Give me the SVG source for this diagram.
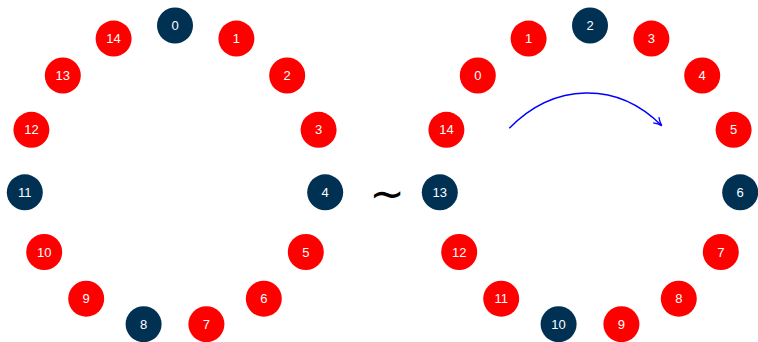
<svg xmlns="http://www.w3.org/2000/svg" width="758" height="342" viewBox="0 0 758 342">
  <style>
    .red { fill: #ff0000; }
    .navy { fill: #003153; }
    .lbl { fill: #ffffff; font-family: "Liberation Sans", Arial, sans-serif; font-size: 13px; text-anchor: middle; dominant-baseline: central; }
    .tilde { fill: #000000; font-family: "DejaVu Sans", sans-serif; font-size: 42px; text-anchor: middle; dominant-baseline: central; }
    .edge { fill: none; stroke: #0000ff; stroke-width: 1.4; }
  </style>
  <defs>
    <marker id="head" viewBox="0 0 10 10" refX="9" refY="5" markerWidth="10" markerHeight="10" markerUnits="userSpaceOnUse" orient="auto">
      <path d="M1,1 Q5,4 9,5 Q5,6 1,9" fill="none" stroke="#0000ff" stroke-width="1.3"/>
    </marker>
  </defs>

  <!-- left ring: 15 nodes on a circle, centre (175,176.5), radius 151 -->
  <g id="L0"><circle class="navy" cx="175" cy="25.5" r="18"/><text class="lbl" x="175" y="25.5">0</text></g>
  <g id="L1"><circle class="red" cx="236.4" cy="38.6" r="18"/><text class="lbl" x="236.4" y="38.6">1</text></g>
  <g id="L2"><circle class="red" cx="287.2" cy="75.5" r="18"/><text class="lbl" x="287.2" y="75.5">2</text></g>
  <g id="L3"><circle class="red" cx="318.6" cy="129.8" r="18"/><text class="lbl" x="318.6" y="129.8">3</text></g>
  <g id="L4"><circle class="navy" cx="325.2" cy="192.3" r="18"/><text class="lbl" x="325.2" y="192.3">4</text></g>
  <g id="L5"><circle class="red" cx="305.8" cy="252" r="18"/><text class="lbl" x="305.8" y="252">5</text></g>
  <g id="L6"><circle class="red" cx="263.8" cy="298.7" r="18"/><text class="lbl" x="263.8" y="298.7">6</text></g>
  <g id="L7"><circle class="red" cx="206.4" cy="324.2" r="18"/><text class="lbl" x="206.4" y="324.2">7</text></g>
  <g id="L8"><circle class="navy" cx="143.6" cy="324.2" r="18"/><text class="lbl" x="143.6" y="324.2">8</text></g>
  <g id="L9"><circle class="red" cx="86.2" cy="298.7" r="18"/><text class="lbl" x="86.2" y="298.7">9</text></g>
  <g id="L10"><circle class="red" cx="44.2" cy="252" r="18"/><text class="lbl" x="44.2" y="252">10</text></g>
  <g id="L11"><circle class="navy" cx="24.8" cy="192.3" r="18"/><text class="lbl" x="24.8" y="192.3">11</text></g>
  <g id="L12"><circle class="red" cx="31.4" cy="129.8" r="18"/><text class="lbl" x="31.4" y="129.8">12</text></g>
  <g id="L13"><circle class="red" cx="62.8" cy="75.5" r="18"/><text class="lbl" x="62.8" y="75.5">13</text></g>
  <g id="L14"><circle class="red" cx="113.6" cy="38.6" r="18"/><text class="lbl" x="113.6" y="38.6">14</text></g>

  <!-- equivalence sign -->
  <text class="tilde" x="387" y="193">∼</text>

  <!-- right ring: same circle shifted, labels rotated by two -->
  <g id="R2"><circle class="navy" cx="590" cy="25.5" r="18"/><text class="lbl" x="590" y="25.5">2</text></g>
  <g id="R3"><circle class="red" cx="651.4" cy="38.6" r="18"/><text class="lbl" x="651.4" y="38.6">3</text></g>
  <g id="R4"><circle class="red" cx="702.2" cy="75.5" r="18"/><text class="lbl" x="702.2" y="75.5">4</text></g>
  <g id="R5"><circle class="red" cx="733.6" cy="129.8" r="18"/><text class="lbl" x="733.6" y="129.8">5</text></g>
  <g id="R6"><circle class="navy" cx="740.2" cy="192.3" r="18"/><text class="lbl" x="740.2" y="192.3">6</text></g>
  <g id="R7"><circle class="red" cx="720.8" cy="252" r="18"/><text class="lbl" x="720.8" y="252">7</text></g>
  <g id="R8"><circle class="red" cx="678.8" cy="298.7" r="18"/><text class="lbl" x="678.8" y="298.7">8</text></g>
  <g id="R9"><circle class="red" cx="621.4" cy="324.2" r="18"/><text class="lbl" x="621.4" y="324.2">9</text></g>
  <g id="R10"><circle class="navy" cx="558.6" cy="324.2" r="18"/><text class="lbl" x="558.6" y="324.2">10</text></g>
  <g id="R11"><circle class="red" cx="501.2" cy="298.7" r="18"/><text class="lbl" x="501.2" y="298.7">11</text></g>
  <g id="R12"><circle class="red" cx="459.2" cy="252" r="18"/><text class="lbl" x="459.2" y="252">12</text></g>
  <g id="R13"><circle class="navy" cx="439.8" cy="192.3" r="18"/><text class="lbl" x="439.8" y="192.3">13</text></g>
  <g id="R14"><circle class="red" cx="446.4" cy="129.8" r="18"/><text class="lbl" x="446.4" y="129.8">14</text></g>
  <g id="R0"><circle class="red" cx="477.8" cy="75.5" r="18"/><text class="lbl" x="477.8" y="75.5">0</text></g>
  <g id="R1"><circle class="red" cx="528.6" cy="38.6" r="18"/><text class="lbl" x="528.6" y="38.6">1</text></g>

  <!-- rotation arrow -->
  <g id="connectors">
    <path class="edge" d="M509.3,128.3 C554,82.7 617,80.7 661.7,125.7" marker-end="url(#head)"/>
  </g>
</svg>
